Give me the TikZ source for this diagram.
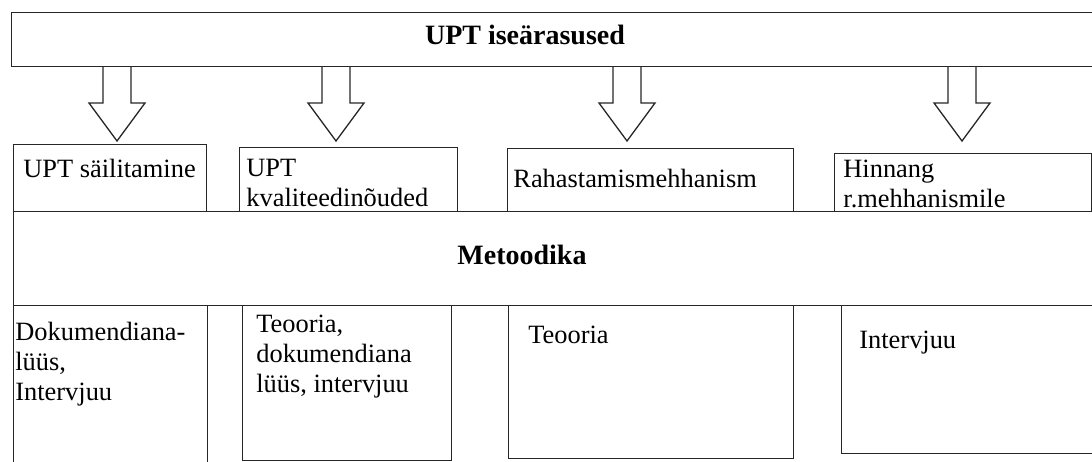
\documentclass[tikz,border=0pt]{standalone}
\usepackage{fontspec}
\setmainfont{Liberation Serif}
\usetikzlibrary{positioning}

\tikzset{
  frame/.style={draw=black!85, line width=0.65pt, rectangle, inner sep=0pt, anchor=north west},
  txt/.style={inner sep=0pt, anchor=base west, align=left, font=\fontsize{13.2}{15}\selectfont},
  heading/.style={inner sep=0pt, anchor=base, font=\fontsize{14}{16}\selectfont\bfseries},
  pics/downarrow/.style={code={
    \draw[black!85, line width=0.65pt] (-14,0) -- (-14,37) -- (-28,37) -- (0,75) -- (28,37) -- (14,37) -- (14,0);
  }}
}

\begin{document}
\begin{tikzpicture}[x=0.5pt, y=-0.5pt]
  \useasboundingbox (0,0) rectangle (1092,461);

  % top box
  \node[frame, minimum width=544.75pt, minimum height=27pt] (upt) at (10.5,12) {};
  \node[heading] (upttitle) at (525,44) {UPT iseärasused};

  % arrows
  \pic at (117,66) {downarrow};
  \pic at (336,66) {downarrow};
  \pic at (627,66) {downarrow};
  \pic at (962,66) {downarrow};

  % first row (base = last line)
  \node[frame, minimum width=96.5pt, minimum height=33.5pt] (b1) at (13,144) {};
  \node[frame, minimum width=109pt, minimum height=32pt] (b2) at (239,147) {};
  \node[frame, minimum width=143pt, minimum height=31.5pt] (b3) at (507,148) {};
  \node[frame, minimum width=128.5pt, minimum height=29pt] (b4) at (834,153) {};
  \node[txt] (tb1) at (23,177) {UPT säilitamine};
  \node[txt] (tb2) at (246,206) {UPT\\kvaliteedinõuded};
  \node[txt] (tb3) at (513,187) {Rahastamismehhanism};
  \node[txt] (tb4) at (843,207) {Hinnang\\r.mehhanismile};

  % methods band
  \node[frame, minimum width=543.5pt, minimum height=47pt] (met) at (13,211) {};
  \node[heading] (mettitle) at (522,264) {Metoodika};

  % second row
  \node[frame, minimum width=97pt, minimum height=82.5pt] (c1) at (13,305) {};
  \node[frame, minimum width=104.5pt, minimum height=77.5pt] (c2) at (242,305) {};
  \node[frame, minimum width=142.5pt, minimum height=76.5pt] (c3) at (508,305) {};
  \node[frame, minimum width=134.5pt, minimum height=74pt] (c4) at (841,305) {};
  \node[txt] (tc1) at (15,400) {Dokumendiana-\\lüüs,\\Intervjuu};
  \node[txt] (tc2) at (256,392) {Teooria,\\dokumendiana\\lüüs, intervjuu};
  \node[txt] (tc3) at (528,343) {Teooria};
  \node[txt] (tc4) at (859,348) {Intervjuu};
\end{tikzpicture}
\end{document}
